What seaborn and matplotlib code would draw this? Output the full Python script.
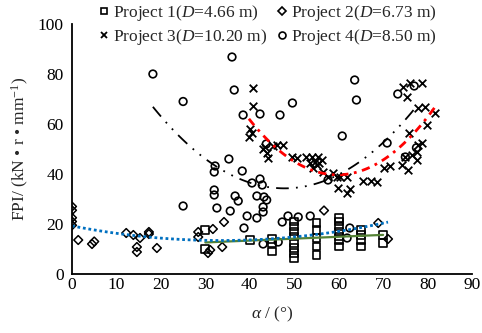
import numpy as np
import pandas as pd
import matplotlib
matplotlib.use("Agg")
import matplotlib.pyplot as plt
import seaborn as sns
from matplotlib.lines import Line2D

sns.set_style("white")
plt.rcParams['font.family'] = ['Liberation Serif', 'DejaVu Serif']
plt.rcParams['mathtext.fontset'] = 'custom'
plt.rcParams['mathtext.rm'] = 'Liberation Serif'
plt.rcParams['mathtext.it'] = 'Liberation Serif:italic'

# Project 1 (D=4.66 m) - squares
x1 = [30, 30, 40, 45, 45, 45, 50, 50, 50, 50, 50, 50, 50, 50,
      55, 55, 55, 55, 55, 60, 60, 60, 60, 60, 60, 60, 65, 65, 65, 65, 70, 70]
y1 = [17.6, 10, 13.6, 14, 12.4, 9, 21, 19, 17, 15, 12.5, 10.5, 8.5, 6.5,
      20.5, 17.5, 14.5, 11, 7.5, 22.5, 21, 19, 17, 15, 13.5, 11, 17.5, 15.5, 13.5, 11, 15.5, 12.5]

# Project 2 (D=6.73 m) - diamonds
x2 = [0, 0, 0, 0, 0, 1.4, 4.5, 5, 12.2, 13.8, 15.3, 14.6, 14.6, 17.3, 17.3, 19.1,
      28.4, 28.4, 31.7, 34.2, 31.1, 30.6, 33.8, 56.7, 68.9, 71.1]
y2 = [27, 25.5, 22.5, 21, 19.5, 13.6, 12, 13, 16.4, 15.6, 14.4, 10.8, 8.8, 16.8, 16, 10.4,
      16.8, 14.8, 18, 20.8, 9.6, 8.4, 10.8, 25.4, 20.4, 14]

# Project 3 (D=10.20 m) - crosses
x3 = [40.7, 40.7, 40, 40.5, 39.8, 43, 43.4, 43.9, 44, 45.2, 46.1, 47.5, 49.5, 50.6, 52.7,
      54, 55.4, 53.6, 55.1, 54.2, 56.3, 54.6, 55.6, 56.5, 57.6, 58.7, 59.6, 60.3, 61.9,
      59.9, 61.9, 62.5, 65.5, 67.2, 68.6, 70.2, 71.6, 74.3, 75.7, 74.9, 76.5, 77.6, 77.9,
      78.8, 77.6, 75.8, 79.9, 81.7, 77.9, 79.4, 75.4, 74.5, 76, 78.8]
y3 = [74.6, 67.2, 58, 56.4, 54.8, 50, 50.8, 48.4, 46.6, 51.2, 51.6, 51.6, 46.8, 46.4, 46.8,
      46.8, 46.8, 44.4, 43.6, 42.4, 45.6, 45, 44.5, 40.8, 38.8, 40.4, 38.8, 38.8, 38.8,
      34.4, 32.4, 34, 37.2, 37.2, 36.8, 42.6, 43.2, 43.6, 41.6, 46.8, 47.6, 48.8, 51.8,
      52.4, 45.6, 56.4, 59.6, 64.4, 66.6, 67, 70.8, 74.8, 76.4, 76.4]

# Project 4 (D=8.50 m) - circles
x4 = [18.2, 25, 36, 36.5, 38.5, 42.3, 46.8, 49.6, 63.6, 64, 73.3, 77, 60.8, 70.9, 43.7,
      57.6, 75, 77.5, 25, 32.2, 32, 32, 32, 35.3, 38.3, 40.5, 36.7, 37.4, 32.6, 35.6,
      42.3, 42.8, 41.6, 43.2, 43.8, 43, 43, 39.4, 41.6, 38.7, 47.3, 48.6, 50.9, 53.6,
      43, 46.4, 62.5, 61.9]
y4 = [80, 69, 86.8, 73.6, 63.6, 64, 63.6, 68.4, 77.6, 69.6, 72, 75.2, 55.2, 52.4, 52,
      37.6, 46.8, 50.5, 27.2, 43.2, 40.8, 33.6, 31.6, 46, 41.2, 36.4, 31.2, 29.2, 26.4, 25.2,
      38, 35.6, 31.2, 30.8, 29.6, 26.8, 24.8, 23.2, 22.4, 18.4, 20.8, 23.2, 22.8, 23.2,
      12, 12.8, 18.4, 14.4]

labels = [r"Project 1($\mathit{D}$=4.66 m)", r"Project 2($\mathit{D}$=6.73 m)",
          r"Project 3($\mathit{D}$=10.20 m)", r"Project 4($\mathit{D}$=8.50 m)"]

FS = 12.5
fig = plt.figure(figsize=(4.82, 3.33), dpi=100)
ax = fig.add_axes([72/482, 1-274/333, 400/482, 250/333])

sns.scatterplot(x=x1, y=y1, marker='s', facecolor='none', edgecolor='k', ax=ax, s=32, linewidth=1.2)
sns.scatterplot(x=x2, y=y2, marker='D', facecolor='none', edgecolor='k', ax=ax, s=20, linewidth=1.1)
sns.scatterplot(x=x3, y=y3, marker='x', color='k', ax=ax, s=30, linewidth=1.3)
sns.scatterplot(x=x4, y=y4, marker='o', facecolor='none', edgecolor='k', ax=ax, s=30, linewidth=1.2)

# fitted trend lines
sns.regplot(x=x1, y=y1, order=1, ci=None, scatter=False, ax=ax,
            line_kws=dict(color='#548235', lw=1.6))
sns.regplot(x=x2, y=y2, order=2, ci=None, scatter=False, ax=ax,
            line_kws=dict(color='#0070C0', lw=2, linestyle=(0, (1, 1))))
sns.regplot(x=x3, y=y3, order=2, ci=None, scatter=False, ax=ax,
            line_kws=dict(color='red', lw=2, linestyle=(0, (3, 2, 1, 2))))
sns.regplot(x=x4, y=y4, order=2, ci=None, scatter=False, ax=ax,
            line_kws=dict(color='black', lw=1.3, linestyle=(0, (7, 4, 1, 4, 1, 4))))

ax.set_xlim(0, 90)
ax.set_ylim(0, 100)
ax.set_xticks(range(0, 91, 10))
ax.set_yticks(range(0, 101, 20))
for s in ['top', 'right']:
    ax.spines[s].set_visible(False)
for s in ['left', 'bottom']:
    ax.spines[s].set_color('black')
    ax.spines[s].set_linewidth(1.3)
ax.tick_params(direction='in', length=5, width=1.2, colors='black', labelsize=FS)
ax.tick_params(axis='x', pad=2)
ax.tick_params(axis='y', pad=6)
ax.set_xlabel(r"$\alpha$ / (°)", fontsize=FS, labelpad=9)
ax.set_ylabel(r"FPI/ (kN • r • mm$^{-1}$)", fontsize=FS, labelpad=5)

hs = [Line2D([], [], ls='none', marker='s', mfc='none', mec='k', mew=1.2, ms=5),
      Line2D([], [], ls='none', marker='D', mfc='none', mec='k', mew=1.2, ms=4),
      Line2D([], [], ls='none', marker='x', color='k', mew=1.3, ms=5),
      Line2D([], [], ls='none', marker='o', mfc='none', mec='k', mew=1.2, ms=5)]
order = [0, 2, 1, 3]
fig.legend([hs[i] for i in order], [labels[i] for i in order], ncol=2,
           loc='upper left', bbox_to_anchor=(94/482, 1.0), frameon=False,
           fontsize=FS, handletextpad=0.1, columnspacing=0.45, labelspacing=0.2,
           handlelength=0.8, borderaxespad=0.1, borderpad=0.1)

fig.savefig("out.png", dpi=100)
